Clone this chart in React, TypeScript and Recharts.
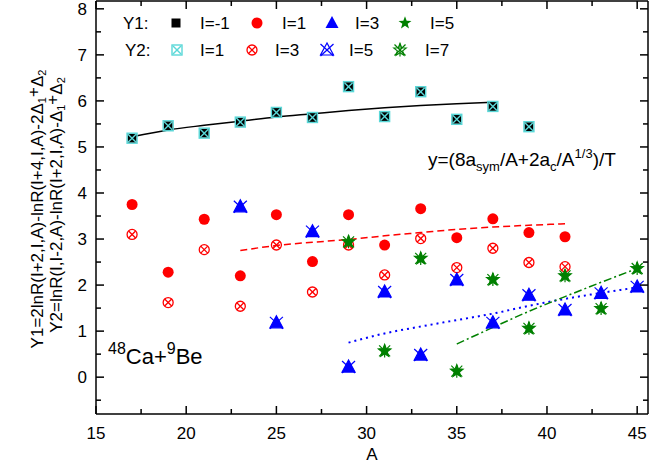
import React from 'react';
import {
  ComposedChart,
  Line,
  Scatter,
  XAxis,
  YAxis,
  ReferenceLine,
} from 'recharts';

// isotopes A and the Y values
const A_m1 = [17, 19, 21, 23, 25, 27, 29, 31, 33, 35, 37, 39];
const Y1_m1 = [5.19, 5.46, 5.3, 5.54, 5.75, 5.64, 6.31, 5.66, 6.2, 5.6, 5.88, 5.44];
const Y2_1 = [5.19, 5.46, 5.3, 5.54, 5.75, 5.64, 6.31, 5.66, 6.2, 5.6, 5.88, 5.44];

const A_1 = [17, 19, 21, 23, 25, 27, 29, 31, 33, 35, 37, 39, 41];
const Y1_1 = [3.75, 2.28, 3.43, 2.2, 3.53, 2.51, 3.53, 2.87, 3.66, 3.03, 3.44, 3.14, 3.05];
const Y2_3 = [3.1, 1.62, 2.77, 1.54, 2.87, 1.85, 2.87, 2.22, 3.01, 2.38, 2.8, 2.49, 2.4];

const A_3 = [23, 25, 27, 29, 31, 33, 35, 37, 39, 41, 43, 45];
const Y1_3 = [3.7, 1.18, 3.16, 0.22, 1.85, 0.48, 2.11, 1.18, 1.78, 1.46, 1.82, 1.96];
const Y2_5 = [3.7, 1.18, 3.16, 0.22, 1.85, 0.48, 2.11, 1.18, 1.78, 1.46, 1.82, 1.96];

const A_5 = [29, 31, 33, 35, 37, 39, 41, 43, 45];
const Y1_5 = [2.94, 0.57, 2.58, 0.13, 2.12, 1.06, 2.2, 1.49, 2.36];
const Y2_7 = [2.94, 0.57, 2.58, 0.13, 2.12, 1.06, 2.2, 1.49, 2.36];

// y=(8a_sym/A+2a_c/A^(1/3))/T curves
const fitA_black = [17, 19, 21, 23, 25, 27, 29, 31, 33, 35, 37];
const fit_black = [5.22, 5.37, 5.47, 5.56, 5.65, 5.72, 5.79, 5.85, 5.9, 5.94, 5.97];
const fitA_red = [23, 25, 27, 29, 31, 33, 35, 37, 39, 41];
const fit_red = [2.75, 2.86, 2.93, 2.99, 3.07, 3.14, 3.21, 3.26, 3.3, 3.33];
const fitA_blue = [29, 31, 33, 35, 37, 39, 41, 43, 45];
const fit_blue = [0.75, 0.95, 1.1, 1.24, 1.38, 1.55, 1.7, 1.83, 1.95];
const fitA_green = [35, 37, 39, 41, 43, 45];
const fit_green = [0.72, 1.08, 1.43, 1.75, 2.06, 2.36];

const xTicks = [15, 17.5, 20, 22.5, 25, 27.5, 30, 32.5, 35, 37.5, 40, 42.5, 45];
const yTicks = [-0.5, 0, 0.5, 1, 1.5, 2, 2.5, 3, 3.5, 4, 4.5, 5, 5.5, 6, 6.5, 7, 7.5, 8];

const toPts = (xs: number[], ys: number[]) => xs.map((A, i) => ({ A, y: ys[i] }));

const W = 652;
const H = 465;
const PL = 96;
const PR = 648;
const PT = 1;
const PB = 414;
const FONT = '"Liberation Sans", Arial, sans-serif';
const CYAN = '#5ad8d8';
const GREEN = '#008000';

const starPts = (cx: number, cy: number, ro: number, ri: number) => {
  const p: string[] = [];
  for (let i = 0; i < 10; i++) {
    const r = i % 2 === 0 ? ro : ri;
    const a = -Math.PI / 2 + (i * Math.PI) / 5;
    p.push(`${cx + r * Math.cos(a)},${cy + r * Math.sin(a)}`);
  }
  return p.join(' ');
};

function Marker({ kind, cx, cy }: { kind: string; cx: number; cy: number }) {
  switch (kind) {
    case 'square':
      return <rect x={cx - 4.5} y={cy - 4.5} width={9} height={9} fill="#000" />;
    case 'xsquare':
      return (
        <g stroke={CYAN} strokeWidth={1.4} fill="none">
          <rect x={cx - 5} y={cy - 5} width={10} height={10} />
          <line x1={cx - 4} y1={cy - 4} x2={cx + 4} y2={cy + 4} />
          <line x1={cx + 4} y1={cy - 4} x2={cx - 4} y2={cy + 4} />
        </g>
      );
    case 'circle':
      return <circle cx={cx} cy={cy} r={5.5} fill="#ff0000" />;
    case 'xcircle':
      return (
        <g stroke="#ff0000" strokeWidth={1.3} fill="none">
          <circle cx={cx} cy={cy} r={5} />
          <line x1={cx - 3.5} y1={cy - 3.5} x2={cx + 3.5} y2={cy + 3.5} />
          <line x1={cx + 3.5} y1={cy - 3.5} x2={cx - 3.5} y2={cy + 3.5} />
        </g>
      );
    case 'triangle':
      return (
        <polygon
          points={`${cx},${cy - 7} ${cx - 6.5},${cy + 5} ${cx + 6.5},${cy + 5}`}
          fill="#0000ff"
        />
      );
    case 'xtriangle':
      return (
        <g stroke="#0000ff" strokeWidth={1.2} fill="none">
          <polygon points={`${cx},${cy - 7} ${cx - 6.5},${cy + 5} ${cx + 6.5},${cy + 5}`} />
          <line x1={cx - 6.5} y1={cy - 6} x2={cx + 6.5} y2={cy + 6} />
          <line x1={cx + 6.5} y1={cy - 6} x2={cx - 6.5} y2={cy + 6} />
        </g>
      );
    case 'star':
      return <polygon points={starPts(cx, cy, 6.8, 2.8)} fill={GREEN} />;
    case 'astar':
      return (
        <g stroke={GREEN} strokeWidth={1.2} fill="none">
          <polygon points={starPts(cx, cy, 6.5, 2.8)} />
          <line x1={cx} y1={cy - 6.5} x2={cx} y2={cy + 6.5} />
          <line x1={cx - 5.5} y1={cy - 5.5} x2={cx + 5.5} y2={cy + 5.5} />
          <line x1={cx + 5.5} y1={cy - 5.5} x2={cx - 5.5} y2={cy + 5.5} />
        </g>
      );
    default:
      return null;
  }
}

const shapeOf = (kind: string) => (p: any) => <Marker kind={kind} cx={p.cx} cy={p.cy} />;

const XTick = (props: any) => {
  const { x, payload } = props;
  const v = payload.value;
  const major = v % 5 === 0;
  const len = major ? 8 : 5;
  return (
    <g>
      <line x1={x} y1={PB} x2={x} y2={PB - len} stroke="#000" strokeWidth={1.5} />
      <line x1={x} y1={PT} x2={x} y2={PT + len} stroke="#000" strokeWidth={1.5} />
      {major && (
        <text x={x} y={439} textAnchor="middle" fontSize={17} fontFamily={FONT} fill="#000">
          {v}
        </text>
      )}
    </g>
  );
};

const YTick = (props: any) => {
  const { y, payload } = props;
  const v = payload.value;
  const major = Number.isInteger(v);
  const len = major ? 8 : 5;
  return (
    <g>
      <line x1={PL} y1={y} x2={PL + len} y2={y} stroke="#000" strokeWidth={1.5} />
      <line x1={PR} y1={y} x2={PR - len} y2={y} stroke="#000" strokeWidth={1.5} />
      {major && (
        <text x={87} y={y + 6} textAnchor="end" fontSize={17} fontFamily={FONT} fill="#000">
          {v}
        </text>
      )}
    </g>
  );
};

const legendRows = [
  { label: 'Y1:', x: 123, y: 23, items: [
    { kind: 'square', mx: 176, tx: 200, t: 'I=-1' },
    { kind: 'circle', mx: 257, tx: 282, t: 'I=1' },
    { kind: 'triangle', mx: 332, tx: 355, t: 'I=3' },
    { kind: 'star', mx: 405, tx: 430, t: 'I=5' },
  ] },
  { label: 'Y2:', x: 125, y: 50, items: [
    { kind: 'xsquare', mx: 177, tx: 200, t: 'I=1' },
    { kind: 'xcircle', mx: 252, tx: 275, t: 'I=3' },
    { kind: 'xtriangle', mx: 327, tx: 349, t: 'I=5' },
    { kind: 'astar', mx: 400, tx: 425, t: 'I=7' },
  ] },
];

export default function App() {
  return (
    <div style={{ position: 'absolute', left: 0, top: 0, width: W, height: H, background: '#fff' }}>
      <ComposedChart
        width={W}
        height={H}
        margin={{ top: PT, right: W - PR, left: 0, bottom: 0 }}
      >
        <XAxis
          dataKey="A"
          type="number"
          domain={[15, 45.6]}
          ticks={xTicks}
          interval={0}
          tickLine={false}
          tick={XTick}
          height={H - PB}
          stroke="#000"
          strokeWidth={1.5}
          allowDataOverflow
        />
        <YAxis
          dataKey="y"
          type="number"
          domain={[-0.8, 8.17]}
          ticks={yTicks}
          interval={0}
          tickLine={false}
          tick={YTick}
          width={PL}
          stroke="#000"
          strokeWidth={1.5}
          allowDataOverflow
        />
        <ReferenceLine x={45.6} stroke="#000" strokeWidth={1.5} />
        <ReferenceLine y={8.17} stroke="#000" strokeWidth={1.5} />

        <Line data={toPts(fitA_black, fit_black)} dataKey="y" type="monotone" stroke="#000" strokeWidth={1.5} dot={false} isAnimationActive={false} />
        <Line data={toPts(fitA_red, fit_red)} dataKey="y" type="monotone" stroke="#ff0000" strokeWidth={1.5} strokeDasharray="7 4" dot={false} isAnimationActive={false} />
        <Line data={toPts(fitA_blue, fit_blue)} dataKey="y" type="monotone" stroke="#0000ff" strokeWidth={2} strokeDasharray="2 4" dot={false} isAnimationActive={false} />
        <Line data={toPts(fitA_green, fit_green)} dataKey="y" type="monotone" stroke={GREEN} strokeWidth={1.5} strokeDasharray="8 3 2 3" dot={false} isAnimationActive={false} />

        <Scatter data={toPts(A_m1, Y1_m1)} dataKey="y" shape={shapeOf('square')} isAnimationActive={false} />
        <Scatter data={toPts(A_m1, Y2_1)} dataKey="y" shape={shapeOf('xsquare')} isAnimationActive={false} />
        <Scatter data={toPts(A_1, Y1_1)} dataKey="y" shape={shapeOf('circle')} isAnimationActive={false} />
        <Scatter data={toPts(A_1, Y2_3)} dataKey="y" shape={shapeOf('xcircle')} isAnimationActive={false} />
        <Scatter data={toPts(A_3, Y1_3)} dataKey="y" shape={shapeOf('triangle')} isAnimationActive={false} />
        <Scatter data={toPts(A_3, Y2_5)} dataKey="y" shape={shapeOf('xtriangle')} isAnimationActive={false} />
        <Scatter data={toPts(A_5, Y1_5)} dataKey="y" shape={shapeOf('star')} isAnimationActive={false} />
        <Scatter data={toPts(A_5, Y2_7)} dataKey="y" shape={shapeOf('astar')} isAnimationActive={false} />
      </ComposedChart>

      <svg
        width={W}
        height={H}
        style={{ position: 'absolute', left: 0, top: 0, pointerEvents: 'none' }}
        fontFamily={FONT}
      >
        {legendRows.map((row) => (
          <g key={row.label}>
            <text x={row.x} y={row.y + 6} fontSize={17}>{row.label}</text>
            {row.items.map((it) => (
              <g key={it.t + it.kind}>
                <Marker kind={it.kind} cx={it.mx} cy={row.y} />
                <text x={it.tx} y={row.y + 6} fontSize={17}>{it.t}</text>
              </g>
            ))}
          </g>
        ))}

        <text x={428} y={166} fontSize={19}>
          y=(8a<tspan fontSize={13} dy={5}>sym</tspan>
          <tspan dy={-5}>/A+2a</tspan>
          <tspan fontSize={13} dy={5}>c</tspan>
          <tspan dy={-5}>/A</tspan>
          <tspan fontSize={13} dy={-8}>1/3</tspan>
          <tspan dy={8}>)/T</tspan>
        </text>

        <text x={108} y={364} fontSize={22}>
          <tspan fontSize={16} dy={-10}>48</tspan>
          <tspan dy={10}>Ca+</tspan>
          <tspan fontSize={16} dy={-10}>9</tspan>
          <tspan dy={10}>Be</tspan>
        </text>

        <text x={372} y={460} fontSize={17} textAnchor="middle">A</text>

        <text transform="translate(43,209) rotate(-90)" fontSize={17} textAnchor="middle">
          Y1=2lnR(I+2,I,A)-lnR(I+4,I,A)-2Δ
          <tspan fontSize={11} dy={3}>1</tspan>
          <tspan dy={-7}>+</tspan>
          <tspan dy={4}>Δ</tspan>
          <tspan fontSize={11} dy={3}>2</tspan>
        </text>
        <text transform="translate(62,205) rotate(-90)" fontSize={17} textAnchor="middle">
          Y2=lnR(I,I-2,A)-lnR(I+2,I,A)-Δ
          <tspan fontSize={11} dy={3}>1</tspan>
          <tspan dy={-7}>+</tspan>
          <tspan dy={4}>Δ</tspan>
          <tspan fontSize={11} dy={3}>2</tspan>
        </text>
      </svg>
    </div>
  );
}
